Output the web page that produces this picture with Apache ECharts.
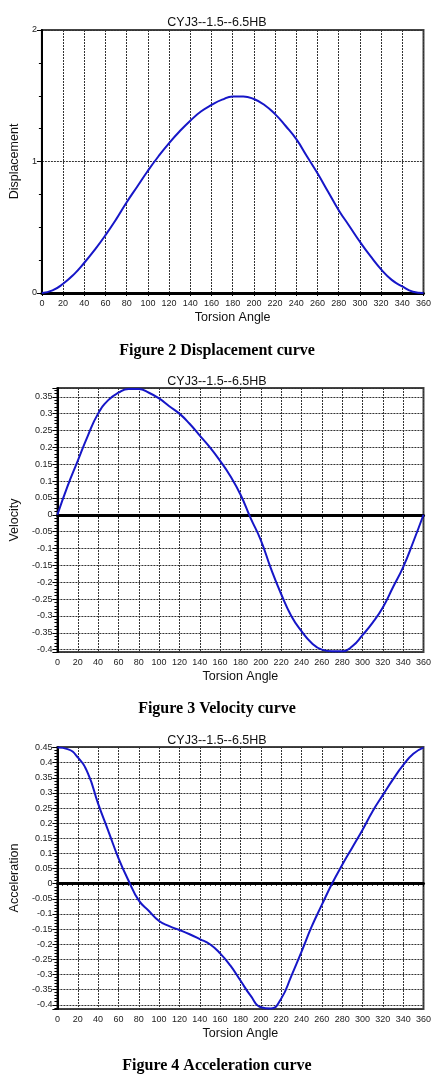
<!DOCTYPE html>
<html>
<head>
<meta charset="utf-8">
<title>CYJ3--1.5--6.5HB</title>
<script src="https://cdn.jsdelivr.net/npm/echarts@6/dist/echarts.min.js"></script>
<style>
    html, body { margin: 0; padding: 0; background: #fff; }
    #mainChart { width: 434px; height: 1092px; }
</style>
</head>
<body>
<div id="mainChart"></div>
<script>
/**
 * 位移 / 速度 / 加速度曲线
 */

// 转角 (度)
var angleData = [0, 10, 20, 30, 40, 50, 60, 70, 80, 90, 100, 110, 120, 130, 140, 150, 160, 170, 180,
    190, 200, 210, 220, 230, 240, 250, 260, 270, 280, 290, 300, 310, 320, 330, 340, 350, 360];

// 位移
var displacementData = [0, 0.02, 0.07, 0.14, 0.23, 0.33, 0.44, 0.56, 0.69, 0.81, 0.93, 1.04, 1.14, 1.23, 1.31, 1.38, 1.43, 1.47, 1.495,
    1.495, 1.475, 1.43, 1.36, 1.27, 1.17, 1.04, 0.91, 0.77, 0.63, 0.51, 0.39, 0.28, 0.18, 0.1, 0.05, 0.01, 0];

// 速度
var velocityData = [0, 0.085, 0.16, 0.235, 0.3, 0.34, 0.362, 0.373, 0.373, 0.362, 0.345, 0.322, 0.3, 0.27, 0.235, 0.2, 0.16, 0.115, 0.06,
    -0.01, -0.075, -0.16, -0.235, -0.3, -0.345, -0.38, -0.4, -0.405, -0.405, -0.39, -0.357, -0.32, -0.275, -0.215, -0.155, -0.08, 0];

// 加速度
var accelerationData = [0.45, 0.445, 0.418, 0.365, 0.265, 0.175, 0.085, 0.01, -0.055, -0.09, -0.123, -0.14, -0.153, -0.167, -0.183, -0.2, -0.23, -0.27, -0.32,
    -0.37, -0.408, -0.412, -0.38, -0.305, -0.225, -0.142, -0.07, 0, 0.062, 0.12, 0.178, 0.24, 0.293, 0.345, 0.392, 0.43, 0.45];

var chartTitle = 'CYJ3--1.5--6.5HB';
var captions = ['Figure 2 Displacement curve', 'Figure 3 Velocity curve', 'Figure 4 Acceleration curve'];
var yNames = ['Displacement', 'Velocity', 'Acceleration'];

function pairs(ys) {
    var out = [];
    for (var i = 0; i < angleData.length; i++) {
        out.push([angleData[i], ys[i]]);
    }
    return out;
}

var FONT = 'Liberation Sans, Arial, sans-serif';
var gridLine = { show: true, lineStyle: { color: '#333', type: [2, 1], width: 1 } };

function xAxisFor(idx) {
    return {
        gridIndex: idx,
        type: 'value',
        min: 0,
        max: 360,
        interval: 20,
        name: 'Torsion Angle',
        nameLocation: 'middle',
        nameGap: 18,
        nameTextStyle: { fontFamily: FONT, fontSize: 12.5, color: '#111' },
        axisLine: { show: true, lineStyle: { color: '#000', width: 3 } },
        axisTick: { show: true, length: 3, lineStyle: { color: '#000' } },
        minorTick: { show: true, splitNumber: 4, length: 2, lineStyle: { color: '#000' } },
        axisLabel: { fontFamily: FONT, fontSize: 9, color: '#222', margin: 6 },
        splitLine: gridLine
    };
}

function yAxisFor(idx, opts) {
    var axis = {
        gridIndex: idx,
        type: 'value',
        name: yNames[idx],
        nameLocation: 'middle',
        nameGap: idx === 0 ? 13 : 25,
        nameTextStyle: { fontFamily: FONT, fontSize: 12.5, color: '#111' },
        axisLine: { show: true, onZero: false, lineStyle: { color: '#000', width: 2 } },
        axisTick: { show: true, length: 5, lineStyle: { color: '#000' } },
        minorTick: { show: true, length: 3, lineStyle: { color: '#000' } },
        axisLabel: { fontFamily: FONT, fontSize: 9, color: '#222', margin: 5, showMinLabel: false, showMaxLabel: false },
        splitLine: gridLine
    };
    for (var k in opts) {
        axis[k] = opts[k];
    }
    return axis;
}

function curve(idx, ys, zero) {
    var s = {
        type: 'line',
        xAxisIndex: idx,
        yAxisIndex: idx,
        data: pairs(ys),
        smooth: true,
        showSymbol: false,
        lineStyle: { color: '#1616c8', width: 2 },
        itemStyle: { color: '#1616c8' },
        z: 5
    };
    if (zero) {
        s.markLine = {
            silent: true,
            symbol: 'none',
            label: { show: false },
            lineStyle: { color: '#000', width: 2, type: 'solid' },
            data: [{ yAxis: 0 }]
        };
    }
    return s;
}

var myChart = echarts.init(document.getElementById('mainChart'), null, { renderer: 'canvas' });

var titleStyle = { fontFamily: FONT, fontSize: 12.5, fontWeight: 'normal', color: '#111' };
var captionStyle = { fontFamily: 'Liberation Serif, Times New Roman, serif', fontSize: 16, fontWeight: 'bold', color: '#000' };

var option = {
    backgroundColor: '#fff',
    animation: false,
    title: [
        { text: chartTitle, left: 'center', top: 11, textStyle: titleStyle },
        { text: chartTitle, left: 'center', top: 370, textStyle: titleStyle },
        { text: chartTitle, left: 'center', top: 729, textStyle: titleStyle },
        { text: captions[0], left: 'center', top: 338, textStyle: captionStyle },
        { text: captions[1], left: 'center', top: 696, textStyle: captionStyle },
        { text: captions[2], left: 'center', top: 1053, textStyle: captionStyle }
    ],
    grid: [
        { left: 26, right: 9, top: 30, height: 263, show: true, borderColor: '#444', borderWidth: 2 },
        { left: 38, right: 9, top: 388, height: 264, show: true, borderColor: '#444', borderWidth: 2 },
        { left: 38, right: 9, top: 747, height: 262, show: true, borderColor: '#444', borderWidth: 2 }
    ],
    xAxis: [xAxisFor(0), xAxisFor(1), xAxisFor(2)],
    yAxis: [
        yAxisFor(0, {
            min: 0, max: 2, interval: 1,
            minorTick: { show: true, splitNumber: 4, length: 3, lineStyle: { color: '#000' } },
            axisLabel: { fontFamily: FONT, fontSize: 9, color: '#222', margin: 5 }
        }),
        yAxisFor(1, {
            min: -0.407, max: 0.376, splitNumber: 16, minInterval: 0.05, maxInterval: 0.05,
            minorTick: { show: true, splitNumber: 5, length: 3, lineStyle: { color: '#000' } }
        }),
        yAxisFor(2, {
            min: -0.414, max: 0.452, splitNumber: 17, minInterval: 0.05, maxInterval: 0.05,
            minorTick: { show: true, splitNumber: 5, length: 3, lineStyle: { color: '#000' } }
        })
    ],
    series: [
        curve(0, displacementData, false),
        curve(1, velocityData, true),
        curve(2, accelerationData, true)
    ]
};

myChart.setOption(option);
</script>
</body>
</html>
